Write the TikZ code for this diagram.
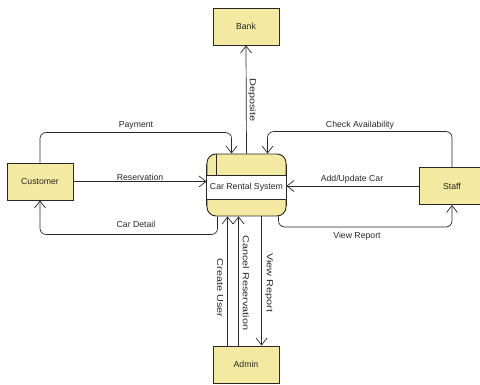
\documentclass[tikz,border=0pt]{standalone}
\usepackage{fontspec}
\setmainfont{Liberation Sans}
\usetikzlibrary{arrows.meta,calc}
\definecolor{boxfill}{RGB}{243,233,160}
\definecolor{ink}{RGB}{40,40,40}
\begin{document}
\begin{tikzpicture}[x=1pt,y=-1pt,
  ent/.style={draw=ink, fill=boxfill, line width=0.9pt, minimum width=66pt, minimum height=37pt, inner sep=0pt, font=\fontsize{8.7}{10}\selectfont, text=ink},
  flow/.style={draw=ink, line width=0.7pt, -{Straight Barb[length=7pt,width=11pt]}, rounded corners=6pt},
  lbl/.style={font=\fontsize{8.7}{10}\selectfont, text=ink, inner sep=1pt},
  vlbl/.style={lbl, rotate=-90}]
\useasboundingbox (0,0) rectangle (480,385);
% entities
\node[ent] (bank) at (246,26.5) {Bank};
\node[ent] (cust) at (40,181.5) {Customer};
\node[ent] (staff) at (452,186) {Staff};
\node[ent] (admin) at (246,364.5) {Admin};
% process
\node[draw=ink, fill=boxfill, line width=0.9pt, rounded corners=9pt, minimum width=79pt, minimum height=62pt, inner sep=0pt] (crs) at (246.5,185) {};
\fill[white] ($(crs.north west)+(0.5,22)$) rectangle ($(crs.north east)+(-0.5,46)$);
\draw[ink, line width=0.9pt] ($(crs.north west)+(0,22)$) -- ($(crs.north east)+(0,22)$);
\draw[ink, line width=0.9pt] ($(crs.north west)+(0,46)$) -- ($(crs.north east)+(0,46)$);
\draw[ink, line width=0.9pt] ($(crs.north west)+(10,0)$) -- ($(crs.north west)+(10,22)$);
\draw[ink, line width=0.9pt] ($(crs.north west)+(0,10)$) -- ($(crs.north west)+(0,52)$);
\draw[ink, line width=0.9pt] ($(crs.north east)+(0,10)$) -- ($(crs.north east)+(0,52)$);
\node[lbl] (crstext) at (246.5,187.5) {Car Rental System};
% flows
\draw[flow] (cust.north) |- ($(crs.north west)+(25,-21)$) -- ($(crs.north west)+(25,0)$);
\draw[flow] (staff.north) |- ($(crs.north west)+(61,-22)$) -- ($(crs.north west)+(61,0)$);
\draw[flow] (crs.north) -- (bank.south);
\draw[flow] (cust.east) -- (crs.west |- cust.east);
\draw[flow] (staff.west) -- (crs.east |- staff.west);
\draw[flow] ($(crs.south west)+(11,0)$) |- ($(cust.south)+(0,34)$) -- (cust.south);
\draw[flow] ($(crs.south west)+(72,0)$) |- ($(staff.south)+(0,22)$) -- (staff.south);
\draw[flow] ($(admin.north west)+(15,0)$) -- ($(crs.south west)+(21,0)$);
\draw[flow] ($(admin.north west)+(26,0)$) -- ($(crs.south west)+(32,0)$);
\draw[flow] ($(crs.south west)+(55,0)$) -- ($(admin.north west)+(49,0)$);
% labels
\node[lbl] (lpay) at (136,125) {Payment};
\node[lbl] (lres) at (140,177) {Reservation};
\node[lbl] (ldet) at (136,224) {Car Detail};
\node[lbl] (lchk) at (360,125) {Check Availability};
\node[lbl] (ladd) at (352,179) {Add/Update Car};
\node[lbl] (lvr1) at (357,236) {View Report};
\node[vlbl] (ldep) at (252,100) {\scalebox{1.25}[1]{Deposite}};
\node[vlbl] (lcu) at (220,288) {\scalebox{1.25}[1]{Create User}};
\node[vlbl] (lcan) at (246,283) {\scalebox{1.25}[1]{Cancel Reservation}};
\node[vlbl] (lvr2) at (269,283) {\scalebox{1.25}[1]{View Report}};
\end{tikzpicture}
\end{document}
